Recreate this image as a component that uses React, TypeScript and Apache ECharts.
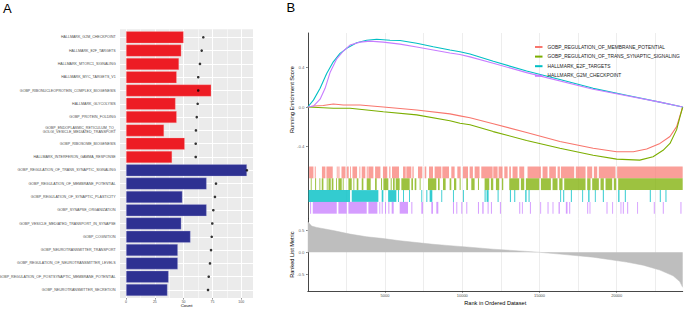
import React, { useEffect, useRef } from "react";
import * as echarts from "echarts";

// ---------- Panel A data ----------
const termLabels = [
  "HALLMARK_G2M_CHECKPOINT",
  "HALLMARK_E2F_TARGETS",
  "HALLMARK_MTORC1_SIGNALING",
  "HALLMARK_MYC_TARGETS_V1",
  "GOBP_RIBONUCLEOPROTEIN_COMPLEX_BIOGENESIS",
  "HALLMARK_GLYCOLYSIS",
  "GOBP_PROTEIN_FOLDING",
  "GOBP_ENDOPLASMIC_RETICULUM_TO_\nGOLGI_VESICLE_MEDIATED_TRANSPORT",
  "GOBP_RIBOSOME_BIOGENESIS",
  "HALLMARK_INTERFERON_GAMMA_RESPONSE",
  "GOBP_REGULATION_OF_TRANS_SYNAPTIC_SIGNALING",
  "GOBP_REGULATION_OF_MEMBRANE_POTENTIAL",
  "GOBP_REGULATION_OF_SYNAPTIC_PLASTICITY",
  "GOBP_SYNAPSE_ORGANIZATION",
  "GOBP_VESICLE_MEDIATED_TRANSPORT_IN_SYNAPSE",
  "GOBP_COGNITION",
  "GOBP_NEUROTRANSMITTER_TRANSPORT",
  "GOBP_REGULATION_OF_NEUROTRANSMITTER_LEVELS",
  "GOBP_REGULATION_OF_POSTSYNAPTIC_MEMBRANE_POTENTIAL",
  "GOBP_NEUROTRANSMITTER_SECRETION",
];
const termDirection = ["up", "up", "up", "up", "up", "up", "up", "up", "up", "up",
  "down", "down", "down", "down", "down", "down", "down", "down", "down", "down"];
const geneCounts = [50, 48, 46, 44, 74, 43, 44, 33, 51, 40, 105, 70, 49, 70, 48, 56, 45, 45, 37, 36];
const dotValues = [67.1, 65.7, 64.2, 62.7, 62.7, 62.2, 61.4, 60.7, 60.5, 60.5, 105, 78.1, 77.2, 75.8, 74.9, 74.4, 73.8, 72.9, 71.8, 71.2];
const countTicks = [0, 25, 50, 75, 100];
const countMinorTicks = [12.5, 37.5, 62.5, 87.5];

// ---------- Panel B data ----------
const setNames = [
  "GOBP_REGULATION_OF_MEMBRANE_POTENTIAL",
  "GOBP_REGULATION_OF_TRANS_SYNAPTIC_SIGNALING",
  "HALLMARK_E2F_TARGETS",
  "HALLMARK_G2M_CHECKPOINT",
];
const esMembrane = [[0, 0], [400, 0.01], [1000, 0.015], [1651, 0.03], [2300, 0.02], [3385, 0.02], [4890, 0.0], [7050, -0.03], [9200, -0.07], [9850, -0.09], [10500, -0.11], [12005, -0.17], [14165, -0.26], [16320, -0.35], [18475, -0.42], [19996, -0.455], [21074, -0.455], [21937, -0.427], [22800, -0.37], [23447, -0.3], [23878, -0.2], [24270, 0]];
const esTransSynaptic = [[0, 0], [1651, -0.013], [2735, -0.013], [4890, -0.048], [7050, -0.08], [9200, -0.14], [9850, -0.165], [10500, -0.18], [12005, -0.25], [14165, -0.34], [16320, -0.42], [18475, -0.49], [19996, -0.53], [21490, -0.54], [22350, -0.505], [23000, -0.44], [23447, -0.37], [23878, -0.23], [24093, -0.1], [24270, 0]];
const esE2F = [[0, 0], [365, 0.07], [796, 0.19], [1223, 0.34], [1651, 0.46], [2085, 0.546], [2518, 0.597], [3166, 0.654], [3813, 0.68], [4460, 0.69], [5322, 0.68], [5970, 0.676], [7050, 0.648], [8125, 0.613], [9206, 0.58], [9853, 0.563], [10500, 0.54], [12010, 0.465], [14167, 0.366], [16322, 0.28], [18478, 0.19], [20636, 0.12], [22790, 0.05], [24270, 0]];
const esG2M = [[0, 0], [365, 0.01], [796, 0.08], [1120, 0.19], [1440, 0.35], [1875, 0.49], [2305, 0.57], [2735, 0.63], [3385, 0.66], [4030, 0.67], [4890, 0.66], [5970, 0.64], [7050, 0.61], [8125, 0.58], [9200, 0.55], [9850, 0.535], [10500, 0.51], [12005, 0.445], [14165, 0.35], [18475, 0.18], [22790, 0.05], [24270, 0]];

const hitsMembrane = [[85, 365], [450, 515], [915, 1140], [1205, 1615], [1875, 1915], [1980, 2050], [2180, 2440], [2520, 2650], [2735, 2780], [2890, 3190], [3340, 3400], [3490, 3725], [3815, 3880], [3920, 4245], [4355, 4700], [4865, 5145], [5270, 5350], [5450, 5905], [6165, 6336], [6380, 6700], [6770, 6855], [7135, 7415], [7565, 7670], [7845, 8105], [8210, 8645], [8710, 9140], [9290, 9505], [9680, 9895], [10045, 10370], [10475, 10690], [10800, 11120], [11230, 11965], [12006, 12287], [12350, 12610], [12720, 12935], [13040, 13150], [13255, 13580], [13690, 14010], [14225, 15090], [15200, 15520], [15630, 16060], [16170, 16320], [16385, 17245], [17350, 17980], [18087, 18410], [18520, 18735], [18840, 19920], [20027, 24270]];
const hitsTransSynaptic = [[192, 235], [472, 537], [752, 795], [903, 1011], [1227, 1270], [1335, 1486], [1550, 1658], [1830, 1874], [1981, 2197], [2262, 2305], [2628, 2844], [2952, 2995], [3167, 3275], [3491, 3598], [3814, 4073], [4353, 4461], [4741, 4806], [4892, 5215], [5366, 5431], [5517, 5625], [5690, 5948], [6056, 6595], [6703, 6811], [6918, 7026], [7242, 7285], [7781, 8320], [8428, 8535], [8751, 8924], [9182, 9290], [9463, 9613], [9829, 9894], [10260, 10368], [10584, 10799], [11015, 11080], [11446, 11748], [11855, 12006], [12179, 12394], [12567, 12653], [13041, 13688], [13796, 14011], [14119, 14982], [15090, 15736], [15844, 16167], [16275, 16491], [16599, 17979], [18087, 18303], [18410, 18842], [18950, 19165], [19273, 19704], [19812, 19963], [20092, 24270]];
const hitsE2F = [[41, 2736], [2844, 4568], [4784, 4892], [5200, 5733], [5840, 5884], [6164, 6207], [6552, 6595], [7350, 7393], [7673, 7738], [7889, 8061], [8643, 8686], [9398, 9441], [10045, 10088], [11446, 11511], [11575, 11705], [12287, 12351], [13084, 13149], [13365, 13429], [14076, 14162], [14292, 14356], [16340, 16383], [16534, 16599], [17030, 17094], [17764, 17807], [18152, 18238], [18583, 18626], [19100, 19165], [20092, 20178], [20523, 20588], [22140, 22205], [22787, 22852], [23154, 23218]];
const hitsG2M = [[149, 213], [321, 1874], [1981, 2520], [2628, 3814], [3922, 4504], [4633, 4676], [4784, 4850], [5000, 5064], [5215, 5280], [5431, 5560], [5948, 6487], [6703, 6768], [7350, 7457], [7996, 8104], [8320, 8449], [9398, 9463], [9614, 9678], [9937, 10002], [10260, 10325], [11015, 11080], [11295, 11382], [11640, 11705], [11855, 11920], [12438, 12502], [13688, 13753], [13861, 13904], [14378, 14443], [15046, 15090], [15520, 15585], [15844, 15888], [16232, 16318], [16706, 16814], [16922, 16987], [18087, 18152], [18238, 18281], [19338, 19402], [19704, 19747], [20243, 20286], [20394, 20459], [20674, 20739], [21321, 21364], [22399, 22464], [22981, 23046], [24124, 24189]];

const rankedMetric = [[0, 0.69], [252, 0.59], [580, 0.56], [1651, 0.49], [2735, 0.41], [3813, 0.35], [4890, 0.31], [5970, 0.26], [7050, 0.22], [8125, 0.18], [9206, 0.15], [10285, 0.12], [12005, 0.07], [14165, 0.02], [15000, 0], [16320, -0.04], [18475, -0.11], [20636, -0.22], [21710, -0.29], [22790, -0.4], [23650, -0.53], [24080, -0.66], [24270, -0.79]];

const rankMax = 24270;
const rankTicks = [5000, 10000, 15000, 20000];
const rankGridLines = [2500, 5000, 7500, 10000, 12500, 15000, 17500, 20000, 22500];
const esTicks = [-0.4, 0, 0.4];
const metricTicks = [-0.5, 0, 0.5];

// ---------- styles ----------
const FONT = "Liberation Sans, Arial, Helvetica, sans-serif";
const upColor = "#ED1C24";
const downColor = "#2E3192";
const setColors = ["#F8766D", "#7CAE00", "#00BFC4", "#C77CFF"];
const rugOpacity = [0.7, 0.75, 0.8, 0.75];
const axisCol = "#333333";
const tickTextCol = "#4D4D4D";
const gridCol = "#EBEBEB";

const fmt1 = (v: number) => (Math.abs(v) < 1e-9 ? "0.0" : v.toFixed(1));

const B_LEFT = 307.8;
const B_WIDTH = 374.9;

function buildOption(): any {
  const rugSets = [hitsMembrane, hitsTransSynaptic, hitsE2F, hitsG2M];
  const rugData: number[][] = [];
  rugSets.forEach((set, row) => set.forEach(([s, e]) => rugData.push([s, e, row])));

  const vGrid = (width: number) =>
    rankGridLines.map((v) => ({ xAxis: v, lineStyle: { color: gridCol, width, type: "solid" } }));

  const esSeries = [esMembrane, esTransSynaptic, esE2F, esG2M].map((d, i) => ({
    name: setNames[i],
    type: "line",
    xAxisIndex: 2,
    yAxisIndex: 2,
    data: d,
    showSymbol: false,
    symbol: "none",
    z: 3,
    lineStyle: { color: setColors[i], width: 1.1 },
    itemStyle: { color: setColors[i] },
    silent: true,
    markLine: i === 0 ? { z: 1, silent: true, symbol: ["none", "none"], label: { show: false }, data: vGrid(0.9) } : undefined,
  }));

  const hiddenX = (gridIndex: number) => ({
    gridIndex, type: "value", min: 0, max: rankMax, show: false,
  });

  // tick labels of panel B's y axes, placed through the axes' own scales
  const tickLabelSeries = (axisIdx: number, vals: number[]) => ({
    type: "scatter",
    xAxisIndex: axisIdx,
    yAxisIndex: axisIdx,
    data: vals.map((v) => [0, v]),
    symbolSize: 1,
    itemStyle: { color: "rgba(0,0,0,0)" },
    silent: true,
    clip: false,
    z: 10,
    zlevel: 0,
    labelLayout: { hideOverlap: false, moveOverlap: false },
    label: {
      show: true,
      position: "left",
      distance: 2.8,
      formatter: (p: any) => fmt1(p.value[1]),
      fontSize: 4.4,
      color: "#333333",
      fontFamily: FONT,
    },
  });

  const yTitle = (text: string, cy: number) => ({
    type: "text",
    x: 292,
    y: cy,
    rotation: Math.PI / 2,
    silent: true,
    style: { text, fontSize: 5.6, fontFamily: FONT, fill: "#000", align: "center", verticalAlign: "middle" },
  });

  return {
    animation: false,
    textStyle: { fontFamily: FONT },
    legend: {
      data: setNames,
      orient: "vertical",
      left: 535,
      top: 42.2,
      padding: 0,
      itemGap: 0,
      itemWidth: 7.5,
      itemHeight: 2,
      icon: "rect",
      selectedMode: false,
      textStyle: { fontSize: 4.85, lineHeight: 9.6, color: "#1A1A1A", fontFamily: FONT },
    },
    graphic: [
      { type: "text", left: 3, top: 1.5, style: { text: "A", fontSize: 13, fontFamily: FONT, fill: "#000" } },
      { type: "text", left: 286.5, top: 0.5, style: { text: "B", fontSize: 13, fontFamily: FONT, fill: "#000" } },
      yTitle("Running Enrichment Score", 99.5),
      yTitle("Ranked List Metric", 254.7),
    ],
    grid: [
      { left: 120, top: 29.3, width: 133, height: 268.7, show: true, backgroundColor: gridCol, borderWidth: 0, outerBoundsMode: "none" },
      { left: 120, top: 30.65, width: 133, height: 266, outerBoundsMode: "none" },
      { left: B_LEFT, top: 33, width: B_WIDTH, height: 133, outerBoundsMode: "none" },
      { left: B_LEFT, top: 166.5, width: B_WIDTH, height: 51.9, outerBoundsMode: "none" },
      { left: B_LEFT, top: 218.4, width: B_WIDTH, height: 72.6, outerBoundsMode: "none" },
    ],
    xAxis: [
      {
        gridIndex: 0, type: "value", min: -5.25, max: 110.25,
        axisLine: { show: false },
        splitLine: { show: false },
        axisTick: { show: true, customValues: countTicks, length: 1.6, lineStyle: { color: axisCol, width: 0.5 } },
        axisLabel: { customValues: countTicks, fontSize: 3.5, color: tickTextCol, margin: 1.8, showMinLabel: true, showMaxLabel: true },
        name: "Count", nameLocation: "middle", nameGap: 5.3, nameMoveOverlap: false,
        nameTextStyle: { fontSize: 4.4, lineHeight: 4.6, color: "#000", fontFamily: FONT },
      },
      { gridIndex: 1, type: "value", min: -5.25, max: 110.25, show: false },
      {
        gridIndex: 2, type: "value", min: 0, max: rankMax,
        axisLine: { show: false, onZero: false }, axisTick: { show: false }, axisLabel: { show: false }, splitLine: { show: false },
      },
      hiddenX(3),
      {
        gridIndex: 4, type: "value", min: 0, max: rankMax,
        axisLine: { show: true, onZero: false, lineStyle: { color: axisCol, width: 0.9 } },
        splitLine: { show: false },
        axisTick: { show: true, customValues: rankTicks, length: 1.8, lineStyle: { color: axisCol, width: 0.6 } },
        axisLabel: { customValues: rankTicks, fontSize: 4, color: tickTextCol, margin: 2.2, formatter: (v: number) => String(v), showMinLabel: true, showMaxLabel: true },
        name: "Rank in Ordered Dataset", nameLocation: "middle", nameGap: 8.8,
        nameTextStyle: { fontSize: 5.6, color: "#000", fontFamily: FONT },
      },
    ],
    yAxis: [
      { gridIndex: 0, type: "value", min: 0, max: 1, show: false },
      {
        gridIndex: 1, type: "category", data: termLabels, inverse: true,
        axisLine: { show: false },
        splitLine: { show: false },
        axisTick: { show: true, alignWithLabel: true, length: 1.6, lineStyle: { color: axisCol, width: 0.5 } },
        axisLabel: { fontSize: 3.6, lineHeight: 4.1, color: tickTextCol, margin: 4.3, interval: 0, align: "right" },
      },
      {
        gridIndex: 2, type: "value", min: -0.6, max: 0.753,
        axisLine: { show: true, onZero: false, lineStyle: { color: axisCol, width: 0.9 } },
        splitLine: { show: false },
        axisTick: { show: true, customValues: esTicks, length: 1.8, lineStyle: { color: axisCol, width: 0.6 } },
        axisLabel: { show: false },
      },
      {
        gridIndex: 3, type: "value", min: 0, max: 4.4, inverse: true,
        axisLine: { show: true, onZero: false, lineStyle: { color: axisCol, width: 0.9 } },
        axisTick: { show: false }, axisLabel: { show: false }, splitLine: { show: false },
      },
      {
        gridIndex: 4, type: "value", min: -0.872, max: 0.764,
        axisLine: { show: true, onZero: false, lineStyle: { color: axisCol, width: 0.9 } },
        splitLine: { show: false },
        axisTick: { show: true, customValues: metricTicks, length: 1.8, lineStyle: { color: axisCol, width: 0.6 } },
        axisLabel: { show: false },
      },
    ],
    series: [
      {
        type: "scatter", xAxisIndex: 0, yAxisIndex: 0, data: [], silent: true,
        markLine: {
          z: 1, silent: true, symbol: ["none", "none"], label: { show: false },
          data: [
            ...countMinorTicks.map((v) => ({ xAxis: v, lineStyle: { color: "#FFFFFF", width: 0.5, type: "solid" } })),
            ...countTicks.map((v) => ({ xAxis: v, lineStyle: { color: "#FFFFFF", width: 1, type: "solid" } })),
          ],
        },
      },
      {
        type: "bar", xAxisIndex: 1, yAxisIndex: 1, barWidth: 12, z: 2, silent: true,
        data: geneCounts.map((v, i) => ({
          value: v,
          itemStyle: {
            color: termDirection[i] === "up" ? upColor : downColor,
            borderColor: termDirection[i] === "up" ? "rgba(255,180,180,0.6)" : "rgba(190,190,230,0.6)",
            borderWidth: 0.5,
          },
        })),
        markLine: {
          z: 1, silent: true, symbol: ["none", "none"], label: { show: false },
          data: termLabels.map((_, i) => ({ yAxis: i, lineStyle: { color: "#FFFFFF", width: 1, type: "solid" } })),
        },
      },
      {
        type: "scatter", xAxisIndex: 1, yAxisIndex: 1, z: 4, silent: true,
        symbolSize: 2.6,
        itemStyle: { color: "#000000" },
        data: dotValues,
      },
      ...esSeries,
      {
        type: "custom", xAxisIndex: 3, yAxisIndex: 3, silent: true, z: 2,
        encode: { x: [0, 1], y: 2 },
        data: rugData,
        renderItem: (params: any, api: any) => {
          const s = api.value(0);
          const e = api.value(1);
          const row = api.value(2);
          const p1 = api.coord([s, row]);
          const p2 = api.coord([e, row + 1]);
          return {
            type: "rect",
            shape: { x: p1[0], y: p1[1], width: Math.max(0.9, p2[0] - p1[0]), height: p2[1] - p1[1] },
            style: { fill: setColors[row], opacity: rugOpacity[row] },
          };
        },
        markLine: { z: 1, silent: true, symbol: ["none", "none"], label: { show: false }, data: vGrid(0.9) },
      },
      {
        type: "line", xAxisIndex: 4, yAxisIndex: 4, silent: true, z: 2,
        data: rankedMetric,
        showSymbol: false, symbol: "none",
        lineStyle: { color: "#BEBEBE", width: 0.5 },
        areaStyle: { color: "#BEBEBE", opacity: 1 },
        markLine: { z: 1, silent: true, symbol: ["none", "none"], label: { show: false }, data: vGrid(0.9) },
      },
      tickLabelSeries(2, esTicks),
      tickLabelSeries(4, metricTicks),
    ],
  };
}

export default function App() {
  const ref = useRef<HTMLDivElement>(null);
  useEffect(() => {
    if (!ref.current) return;
    const chart = echarts.init(ref.current, null, { renderer: "svg" });
    chart.setOption(buildOption());
    return () => chart.dispose();
  }, []);
  return (
    <div
      ref={ref}
      style={{ position: "fixed", left: 0, top: 0, width: 685, height: 309, background: "#fff" }}
    />
  );
}
